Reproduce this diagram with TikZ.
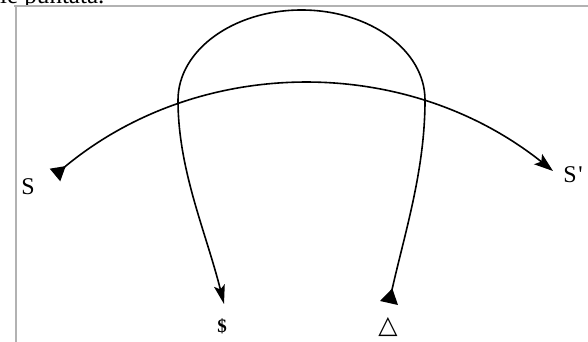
\documentclass[tikz,border=0pt]{standalone}
\usepackage{fontspec}
\setmainfont{Liberation Serif}
\newfontfamily\symfont{DejaVu Sans}
\usetikzlibrary{arrows.meta}
\tikzset{
  frameline/.style={draw=black!30, line width=1.4pt},
  path line/.style={draw=black, line width=1.6pt},
  lbl/.style={inner sep=0pt, font=\fontsize{24}{26}\selectfont},
  starttip/.style={{Triangle[reversed,length=14pt,width=16pt]}-{Stealth[length=19pt,width=13pt,inset=4pt]}},
}
\begin{document}
\begin{tikzpicture}[x=1pt,y=-1pt]
\useasboundingbox (0,0) rectangle (588,342);
% frame of the page
\coordinate (fTL) at (16,6);
\coordinate (fTR) at (588,6);
\coordinate (fBL) at (16,342);
\draw[frameline] (14,6) -- (fTR);
\draw[frameline] (fTL) -- (fBL);
% clipped text of the page above
\begin{scope}
\clip (0,0) rectangle (588,5);
\node[anchor=base west, inner sep=0pt, font=\fontsize{25}{28}\selectfont] (top) at (0,4) {le puntata.};
\end{scope}
% labels
\node[lbl] (S) at (28,187) {S};
\node[lbl] (Sp) at (573,175) {S\kern1.5pt\textquotesingle};
\node[lbl, font=\bfseries\fontsize{19}{21}\selectfont] (dol) at (222,326) {\$};
\node[lbl, font=\symfont\fontsize{25}{27}\selectfont] (tri) at (388,327) {△};
% path end points
\coordinate (sA) at (55,175);
\coordinate (sB) at (553,171);
\coordinate (lA) at (389,303);
\coordinate (lR) at (425,100);
\coordinate (lB) at (224,304);
% S to S'
\draw[path line, starttip] (sA) .. controls (199,55) and (406,54) .. (sB);
% loop
\draw[path line, {Triangle[reversed,length=15pt,width=18pt]}-{Stealth[length=19pt,width=11pt,inset=4pt]}]
  (lA) .. controls (405,232) and (425,170) .. (lR)
  arc[start angle=0, end angle=180, x radius=123.5pt, y radius=90pt]
  .. controls (178,170) and (206,232) .. (lB);
\end{tikzpicture}
\end{document}
